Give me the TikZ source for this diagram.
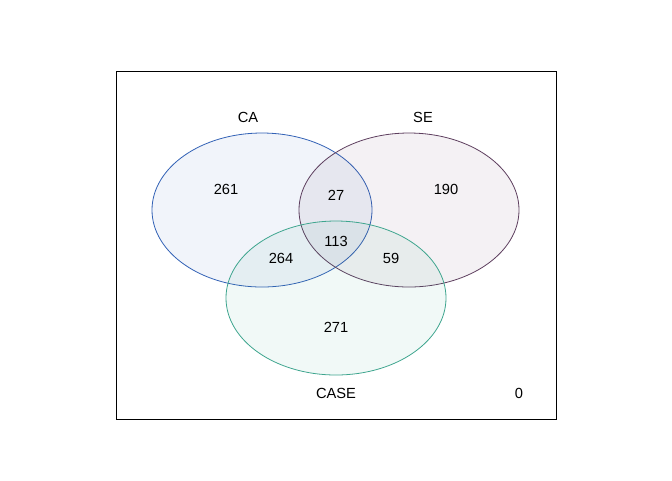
\documentclass[tikz,border=0pt]{standalone}
\usepackage{fontspec}
\setmainfont{Liberation Sans}
\begin{document}
\begin{tikzpicture}[x=0.75pt,y=-0.75pt,
  lbl/.style={font=\fontsize{11pt}{13pt}\selectfont, inner sep=0pt},
  setA/.style={draw=caC, fill=caC, fill opacity=0.07, line width=0.6pt},
  setB/.style={draw=seC, fill=seC, fill opacity=0.07, line width=0.6pt},
  setC/.style={draw=cseC, fill=cseC, fill opacity=0.07, line width=0.6pt}]
\definecolor{caC}{HTML}{3261B5}
\definecolor{seC}{HTML}{5D3E5E}
\definecolor{cseC}{HTML}{3EA58E}
\useasboundingbox (0,0) rectangle (672,480);
\draw[line width=0.6pt] (116,71) rectangle (556,419);
\path[setA] (262,210) ellipse [x radius=110, y radius=77];
\path[setB] (409,210) ellipse [x radius=110, y radius=77];
\path[setC] (336,298) ellipse [x radius=110, y radius=77];
\node[lbl] (lCA) at (248,117) {CA};
\node[lbl] (lSE) at (423,117) {SE};
\node[lbl] (lCASE) at (336,393) {CASE};
\node[lbl] (n0) at (519,393) {0};
\node[lbl] (n261) at (226,189) {261};
\node[lbl] (n27) at (336,195) {27};
\node[lbl] (n190) at (446,189) {190};
\node[lbl] (n113) at (336,241) {113};
\node[lbl] (n264) at (281,258) {264};
\node[lbl] (n59) at (391,258) {59};
\node[lbl] (n271) at (336,327) {271};
\end{tikzpicture}
\end{document}
